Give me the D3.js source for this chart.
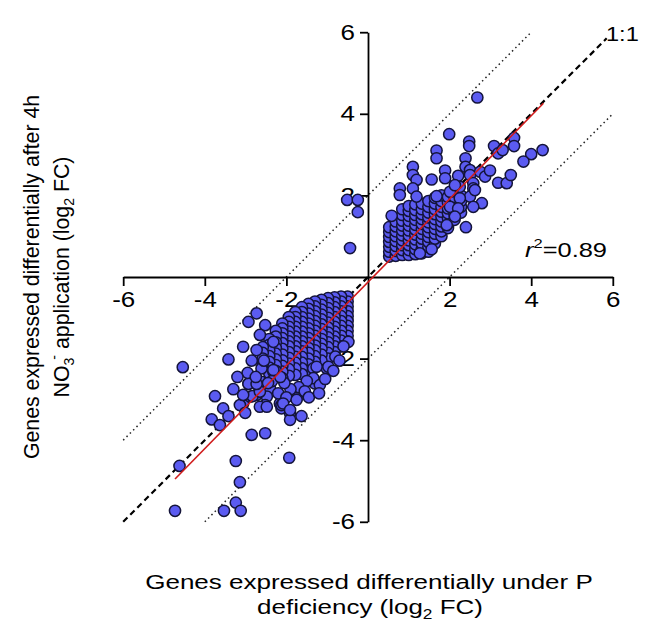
<!DOCTYPE html>
<html>
<head>
<meta charset="utf-8">
<script src="https://cdn.jsdelivr.net/npm/d3@7"></script>
<style>
  body { margin: 0; background: #fff; }
  text { font-family: "Liberation Sans", Arial, sans-serif; fill: #000; }
</style>
</head>
<body>
<script>
// axis ticks (0 is not labelled on either axis)
var xTickValues = [-6, -4, -2, 2, 4, 6];
var yTickValues = [-6, -4, -2, 2, 4, 6];

// reference lines, in log2 FC units
var identityLine = [[-6, -6], [5.85, 5.85]];
var upperBand = [[-6, -4], [4, 6]];
var lowerBand = [[-4, -6], [6, 4]];
var fitLine = [[-4.73, -4.95], [4.30, 4.26]];
var rSquared = "0.89";

// scattered genes, up-regulated in both
var upScatter = [
  [2.68, 4.40], [1.99, 3.50], [2.48, 3.32], [2.48, 3.21], [3.58, 3.41], [3.58, 3.21],
  [3.09, 3.21], [3.19, 3.03], [3.30, 3.11], [4.28, 3.11], [4.00, 3.01], [3.81, 2.83],
  [1.68, 3.10], [1.68, 2.91], [1.10, 2.70], [1.10, 2.50], [1.19, 2.38], [1.56, 2.39],
  [1.89, 2.61], [1.89, 2.42], [2.39, 2.91], [2.39, 2.70], [2.21, 2.48], [2.50, 2.62],
  [2.50, 2.50], [2.75, 2.58], [2.87, 2.46], [2.99, 2.61], [3.19, 2.31], [3.40, 2.30],
  [3.50, 2.50], [2.58, 2.30], [2.58, 2.17], [2.79, 1.81], [2.40, 1.22], [0.78, 2.17],
  [0.78, 2.01], [1.10, 2.17], [1.19, 1.97], [0.58, 1.50], [2.01, 2.09], [2.25, 2.21],
  [2.50, 1.97], [1.56, 0.68], [2.01, 1.72], [1.68, 1.98], [2.13, 2.25], [2.62, 2.13],
  [2.25, 1.93], [2.58, 1.72], [2.21, 1.68], [2.13, 1.48], [1.93, 1.27], [1.27, 0.58]
];

// dense block of up-regulated genes, one column per x value
var upCore = [
  { x: 0.52, ys: [0.50, 0.62, 0.74, 0.86, 0.98, 1.10, 1.22] },
  { x: 0.68, ys: [0.52, 0.64, 0.76, 0.88, 1.00, 1.12, 1.24, 1.36] },
  { x: 0.84, ys: [0.54, 0.66, 0.78, 0.90, 1.02, 1.14, 1.26, 1.38, 1.52, 1.66] },
  { x: 1.00, ys: [0.54, 0.66, 0.78, 0.90, 1.02, 1.14, 1.26, 1.38, 1.50, 1.62, 1.74] },
  { x: 1.16, ys: [0.56, 0.68, 0.80, 0.92, 1.04, 1.16, 1.28, 1.40, 1.52, 1.64, 1.78] },
  { x: 1.32, ys: [0.58, 0.70, 0.82, 0.94, 1.06, 1.18, 1.30, 1.42, 1.54, 1.66, 1.80] },
  { x: 1.48, ys: [0.62, 0.74, 0.86, 0.98, 1.10, 1.22, 1.34, 1.46, 1.58, 1.72, 1.86] },
  { x: 1.64, ys: [0.82, 0.94, 1.06, 1.18, 1.30, 1.42, 1.54, 1.66, 1.80, 1.94] },
  { x: 1.80, ys: [1.00, 1.12, 1.24, 1.36, 1.48, 1.60, 1.72, 1.86, 2.00] },
  { x: 1.96, ys: [1.20, 1.32, 1.44, 1.56, 1.68, 1.82, 1.96] },
  { x: 2.12, ys: [1.40, 1.54, 1.68, 1.82, 1.96, 2.10] },
  { x: 2.28, ys: [1.58, 1.72, 1.86, 2.00] }
];

// genes going the opposite way (down under P deficiency, up after NO3-)
var mixedScatter = [[-0.51, 1.89], [-0.25, 1.89], [-0.25, 1.59], [-0.44, 0.71]];

// dense block of down-regulated genes
var downCore = [
  { x: -0.50, ys: [-0.48, -0.60, -0.72, -0.84, -0.96, -1.08, -1.20, -1.32, -1.44, -1.58] },
  { x: -0.66, ys: [-0.48, -0.60, -0.72, -0.84, -0.96, -1.08, -1.20, -1.32, -1.44, -1.56, -1.70] },
  { x: -0.82, ys: [-0.50, -0.62, -0.74, -0.86, -0.98, -1.10, -1.22, -1.34, -1.46, -1.58, -1.70, -1.84] },
  { x: -0.98, ys: [-0.52, -0.64, -0.76, -0.88, -1.00, -1.12, -1.24, -1.36, -1.48, -1.60, -1.72, -1.86, -2.00] },
  { x: -1.14, ys: [-0.56, -0.68, -0.80, -0.92, -1.04, -1.16, -1.28, -1.40, -1.52, -1.64, -1.76, -1.90, -2.05] },
  { x: -1.30, ys: [-0.60, -0.72, -0.84, -0.96, -1.08, -1.20, -1.32, -1.44, -1.56, -1.68, -1.80, -1.94, -2.08] },
  { x: -1.46, ys: [-0.66, -0.78, -0.90, -1.02, -1.14, -1.26, -1.38, -1.50, -1.62, -1.74, -1.86, -2.00, -2.14, -2.30] },
  { x: -1.62, ys: [-0.74, -0.86, -0.98, -1.10, -1.22, -1.34, -1.46, -1.58, -1.70, -1.82, -1.96, -2.10, -2.24, -2.38] },
  { x: -1.78, ys: [-0.86, -0.98, -1.10, -1.22, -1.34, -1.46, -1.58, -1.70, -1.82, -1.96, -2.10, -2.24, -2.40] },
  { x: -1.94, ys: [-0.98, -1.10, -1.22, -1.34, -1.46, -1.58, -1.70, -1.84, -1.98, -2.12, -2.26, -2.42] },
  { x: -2.10, ys: [-1.14, -1.26, -1.38, -1.50, -1.62, -1.76, -1.90, -2.04, -2.18, -2.32, -2.48] },
  { x: -2.26, ys: [-1.32, -1.46, -1.60, -1.74, -1.88, -2.02, -2.16, -2.30, -2.44] },
  { x: -2.42, ys: [-1.52, -1.66, -1.80, -1.94, -2.08, -2.22, -2.36] },
  { x: -2.58, ys: [-1.72, -1.86, -2.00, -2.14] }
];

// scattered down-regulated genes
var downScatter = [
  [-4.54, -2.21], [-2.73, -0.89], [-2.93, -1.10], [-2.52, -1.18], [-2.65, -1.42], [-3.06, -1.71],
  [-3.42, -2.02], [-2.73, -1.79], [-2.32, -1.59], [-2.61, -2.24], [-2.32, -2.32], [-2.93, -2.61],
  [-2.61, -2.57], [-2.40, -2.73], [-3.75, -2.92], [-3.55, -3.22], [-3.42, -3.41], [-3.83, -3.49],
  [-3.63, -3.63], [-3.06, -3.10], [-3.14, -3.14], [-2.89, -2.93], [-2.73, -2.89], [-2.48, -2.93],
  [-2.52, -3.14], [-2.65, -3.18], [-2.16, -3.10], [-2.12, -3.22], [-1.91, -3.34], [-1.91, -3.50],
  [-1.63, -3.41], [-1.75, -2.97], [-2.85, -3.87], [-2.52, -3.83], [-3.01, -3.33], [-4.62, -4.63],
  [-3.24, -4.51], [-3.14, -5.03], [-3.24, -5.53], [-3.53, -5.73], [-3.12, -5.73], [-4.73, -5.73],
  [-1.93, -4.43], [-1.34, -2.24], [-1.01, -2.24], [-1.30, -2.61], [-0.48, -1.59], [-2.12, -3.14],
  [-1.34, -2.48], [-1.18, -2.65], [-1.50, -2.55], [-1.70, -2.70], [-1.90, -2.75], [-2.05, -2.60],
  [-2.20, -2.85], [-2.00, -2.95], [-1.55, -2.80], [-2.35, -2.55], [-2.15, -2.45], [-0.97, -2.20],
  [-1.26, -2.20], [-0.60, -1.70], [-0.80, -1.95], [-2.83, -2.92], [-2.65, -2.81], [-2.93, -2.62],
  [-2.73, -2.62], [-3.06, -2.89], [-2.48, -3.18], [-2.08, -3.10], [-1.75, -3.01], [-1.91, -3.26],
  [-2.32, -2.28], [-2.85, -2.05], [-2.95, -2.35], [-2.75, -2.45], [-2.55, -2.05], [-3.20, -2.45],
  [-3.30, -2.75], [-1.45, -2.95], [-1.20, -2.85], [-1.05, -2.50], [-0.85, -2.30], [-0.70, -2.05],
  [-2.45, -2.60]
];

var width = 651, height = 623;
var textStretch = 1.18;   // horizontal text in the figure is a bit wide

var svg = d3.select("body").append("svg")
    .attr("width", width)
    .attr("height", height);

var x = d3.scaleLinear().domain([-6, 6]).range([123.2, 612.8]);
var y = d3.scaleLinear().domain([-6, 6]).range([521.8, 32.2]);

var line = d3.line()
    .x(function(d) { return x(d[0]); })
    .y(function(d) { return y(d[1]); });

//reference lines under the points
svg.append("path").datum(upperBand)
    .attr("d", line).attr("fill", "none")
    .attr("stroke", "#222").attr("stroke-width", 1.5).attr("stroke-dasharray", "1.5,3.2");
svg.append("path").datum(lowerBand)
    .attr("d", line).attr("fill", "none")
    .attr("stroke", "#222").attr("stroke-width", 1.5).attr("stroke-dasharray", "1.5,3.2");
svg.append("path").datum(identityLine)
    .attr("d", line).attr("fill", "none")
    .attr("stroke", "#000").attr("stroke-width", 2.2).attr("stroke-dasharray", "6,4");

//axes crossing at the origin
var fmt = function(d) { return String(d); };   // plain hyphen minus like the figure
var xAxis = svg.append("g")
    .attr("transform", "translate(0," + y(0) + ")")
    .call(d3.axisBottom(x).tickValues(xTickValues).tickFormat(fmt)
        .tickSize(9).tickSizeOuter(0).tickPadding(5));
var yAxis = svg.append("g")
    .attr("transform", "translate(" + x(0) + ",0)")
    .call(d3.axisLeft(y).tickValues(yTickValues).tickFormat(fmt)
        .tickSize(8).tickSizeOuter(0).tickPadding(4));

[xAxis, yAxis].forEach(function(g) {
    g.select(".domain").attr("stroke", "#000").attr("stroke-width", 1.8);
    g.selectAll(".tick line").attr("stroke", "#000").attr("stroke-width", 1.8);
    g.selectAll(".tick text")
        .attr("font-size", 22)
        .attr("font-family", "Liberation Sans, Arial, sans-serif")
        .attr("fill", "#000");
});
xAxis.selectAll(".tick text").attr("transform", "scale(" + textStretch + ",1)");
yAxis.selectAll(".tick text")
    .attr("transform", "scale(" + textStretch + ",1)")
    .attr("x", -13 / textStretch);

//points
var points = [];
upCore.forEach(function(col) {
    col.ys.forEach(function(v) { points.push([col.x, v]); });
});
downCore.forEach(function(col) {
    col.ys.forEach(function(v) { points.push([col.x, v]); });
});
points = points.concat(upScatter, downScatter, mixedScatter);

svg.append("g").selectAll("circle")
    .data(points)
    .enter()
    .append("circle")
    .attr("cx", function(d) { return x(d[0]); })
    .attr("cy", function(d) { return y(d[1]); })
    .attr("r", 5.6)
    .attr("fill", "#5b5bf1")
    .attr("stroke", "#14143a")
    .attr("stroke-width", 1.5);

//regression line on top
svg.append("path").datum(fitLine)
    .attr("d", line).attr("fill", "none")
    .attr("stroke", "#d01c1c").attr("stroke-width", 1.6);

// stretch a horizontal label so it covers the same width as in the figure
function fitWidth(sel, cx, cy, w) {
    var len = sel.node().getComputedTextLength();
    sel.attr("transform", "translate(" + cx + "," + cy + ") scale(" + (w / len) + ",1)");
}

// labels
svg.append("text")
    .attr("transform", "translate(606,41) scale(" + textStretch + ",1)")
    .attr("font-size", 20)
    .text("1:1");

var r2 = svg.append("text")
    .attr("font-size", 20);
r2.append("tspan").attr("font-style", "italic").text("r");
r2.append("tspan").attr("font-size", 13).attr("dy", -9).text("2");
r2.append("tspan").attr("dy", 9).text("=" + rSquared);
fitWidth(r2, 525, 257, 82);

// x axis title, two lines
var xt1 = svg.append("text")
    .attr("text-anchor", "middle")
    .attr("font-size", 21)
    .text("Genes expressed differentially under P");
fitWidth(xt1, 369, 589, 448);

var xt2 = svg.append("text")
    .attr("text-anchor", "middle")
    .attr("font-size", 21);
xt2.append("tspan").text("deficiency (log");
xt2.append("tspan").attr("font-size", 14).attr("dy", 5).text("2");
xt2.append("tspan").attr("dy", -5).text(" FC)");
fitWidth(xt2, 370, 614, 226);

// y axis title
var yTitle = svg.append("text")
    .attr("transform", "translate(39,277) rotate(-90)")
    .attr("text-anchor", "middle")
    .attr("font-size", 21.3);
yTitle.append("tspan").attr("x", 0).text("Genes expressed differentially after 4h");
var yt2 = yTitle.append("tspan").attr("x", 0).attr("dy", 30);
yt2.append("tspan").text("NO");
yt2.append("tspan").attr("font-size", 14).attr("dy", 5).text("3");
yt2.append("tspan").attr("font-size", 14).attr("dy", -15).attr("dx", -2).text("-");
yt2.append("tspan").attr("dy", 10).text(" application (log");
yt2.append("tspan").attr("font-size", 14).attr("dy", 5).text("2");
yt2.append("tspan").attr("dy", -5).text(" FC)");
</script>
</body>
</html>
